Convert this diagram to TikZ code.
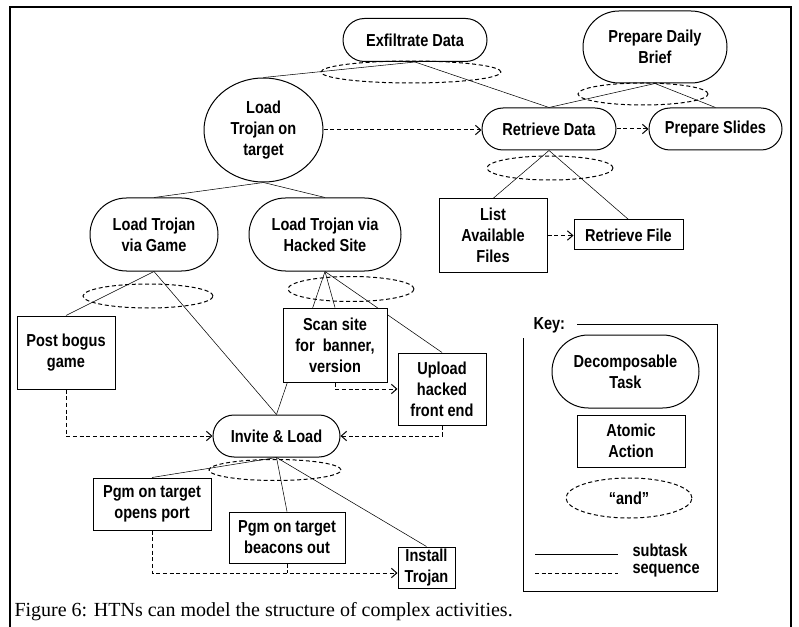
\documentclass[tikz,border=0pt]{standalone}
\usepackage{fontspec}
\setmainfont{Liberation Serif}
\newfontfamily\narrowfont[FakeStretch=0.84]{Liberation Sans}
\usetikzlibrary{shapes.geometric,shapes.misc,arrows.meta,backgrounds,calc}

\newcommand{\labelfont}{\narrowfont\bfseries\fontsize{13}{15.75}\selectfont}

\tikzset{every picture/.style={line width=0.75pt}}
\tikzset{
  wh/.style 2 args={minimum width=#1*0.75pt, minimum height=#2*0.75pt},
  task/.style={rounded rectangle, draw, fill=white, inner sep=0pt, align=center, font=\labelfont},
  action/.style={rectangle, draw, fill=white, inner sep=0pt, align=center, font=\labelfont},
  andlink/.style={ellipse, draw, dash pattern=on 3pt off 2pt, inner sep=0pt, font=\labelfont},
  seq/.style={draw, dash pattern=on 3pt off 2pt, -{Straight Barb[length=4pt,width=7pt]}},
}

\begin{document}
\begin{tikzpicture}[x=0.75pt,y=0.75pt,yscale=-1,xscale=1]
	\useasboundingbox (0,0) rectangle (799,627);

	%Frame
	\draw [line width=2pt] (10,627) -- (10,7) -- (791,7) -- (791,627) ;

	%Top level tasks
	\node [task, wh={144}{43}] (exfil) at (415,40) {Exfiltrate Data};
	\node [andlink, wh={180}{22}] (exfilAnd) at (411,72) {};
	\node [task, wh={144}{72}] (brief) at (655,47) {Prepare Daily\\Brief};
	\node [andlink, wh={130}{22}] (briefAnd) at (643,94) {};
	\node [ellipse, draw, fill=white, inner sep=0pt, align=center, font=\labelfont, wh={119}{104}] (load) at (263.5,130) {Load\\Trojan on\\target};
	\node [task, wh={134}{42}] (retrieve) at (549,129) {Retrieve Data};
	\node [task, wh={133}{42}] (slides) at (715.5,129) {Prepare Slides};

	%Retrieve Data
	\node [andlink, wh={126}{24}] (retrieveAnd) at (550,168) {};
	\node [action, wh={108}{73}] (listfiles) at (493,235.5) {List\\Available\\Files};
	\node [action, wh={109}{30}] (retrievefile) at (628.5,235) {Retrieve File};

	%Load Trojan
	\node [task, wh={128}{73}] (game) at (154,234.5) {Load Trojan\\via Game};
	\node [task, wh={152}{73}] (hacked) at (325,234.5) {Load Trojan via\\Hacked Site};
	\node [andlink, wh={130}{24}] (gameAnd) at (148,296) {};
	\node [andlink, wh={126}{25}] (hackedAnd) at (351,289) {};
	\node [action, wh={98}{73}] (postgame) at (66,352.5) {Post bogus\\game};
	\node [action, wh={104}{74}] (scan) at (335,345) {Scan site\\for\ \ banner,\\version};
	\node [action, wh={88}{72}] (upload) at (442,389) {Upload\\hacked\\front end};

	%Invite & Load
	\node [task, wh={127}{42}] (invite) at (276.5,436) {Invite \& Load};
	\node [andlink, wh={132}{21}] (inviteAnd) at (275,470) {};
	\node [action, wh={118}{52}] (openport) at (152,504) {Pgm on target\\opens port};
	\node [action, wh={116}{51}] (beacons) at (287,537.5) {Pgm on target\\beacons out};
	\node [action, wh={57}{41}] (install) at (426.5,567.5) {Install\\Trojan};

	%Subtask links
	\begin{scope}[on background layer]
	\draw (exfil.south) -- (load.north) ;
	\draw (exfil.south) -- (retrieve.north) ;
	\draw (brief.south) -- (retrieve.north) ;
	\draw (brief.south) -- (slides.north) ;
	\draw (retrieve.south) -- (listfiles.north) ;
	\draw (retrieve.south) -- (retrievefile.north) ;
	\draw (load.south) -- (game.north) ;
	\draw (load.south) -- (hacked.north) ;
	\draw (game.south) -- (postgame.north) ;
	\draw (game.south) -- (invite.north) ;
	\draw (hacked.south) -- (scan.north) ;
	\draw (hacked.south) -- (upload.north) ;
	\draw (hacked.south) -- (invite.north) ;
	\draw (invite.south) -- (openport.north) ;
	\draw (invite.south) -- (beacons.north) ;
	\draw (invite.south) -- (install.north) ;
	\end{scope}

	%Sequence links
	\coordinate (installIn) at ($(install.west)+(0,5.5)$) ;
	\draw [seq] (load.east) -- (load.east -| retrieve.west) ;
	\draw [seq] (retrieve.east) -- (slides.west) ;
	\draw [seq] (listfiles.east) -- (listfiles.east -| retrievefile.west) ;
	\draw [seq] (scan.south) |- (upload.west) ;
	\draw [seq] (postgame.south) |- (invite.west) ;
	\draw [seq] (upload.south) |- (invite.east) ;
	\draw [seq] (openport.south) |- (installIn) ;
	\draw [dash pattern=on 3pt off 2pt] (beacons.south) -- (beacons.south |- installIn) ;

	%Key
	\node [font=\labelfont, anchor=west, inner sep=0pt] (keylabel) at (533,325) {Key:};
	\draw (577,324) -- (717,324) -- (717,591) -- (523,591) -- (523,338) ;
	\node [task, wh={147}{73}] (decomp) at (625.5,371.5) {Decomposable\\Task};
	\node [action, wh={108}{52}] (atomic) at (631,441) {Atomic\\Action};
	\node [andlink, wh={126}{40}] (andkey) at (629,498) {“and”};
	\coordinate (subA) at (535,554) ;
	\coordinate (subB) at (618,554) ;
	\coordinate (seqA) at (535,573) ;
	\coordinate (seqB) at (618,573) ;
	\draw (subA) -- (subB) ;
	\draw [dash pattern=on 3pt off 2pt] (seqA) -- (seqB) ;
	\node [font=\labelfont, anchor=west, inner sep=0pt] (subtxt) at (632,550) {subtask};
	\node [font=\labelfont, anchor=west, inner sep=0pt] (seqtxt) at (632,571) {sequence};

	%Caption
	\node [anchor=base west, inner sep=0pt, font=\fontsize{15}{17}\selectfont] (caption) at (14,616) {Figure 6: HTNs can model the structure of complex activities.};

\end{tikzpicture}
\end{document}
